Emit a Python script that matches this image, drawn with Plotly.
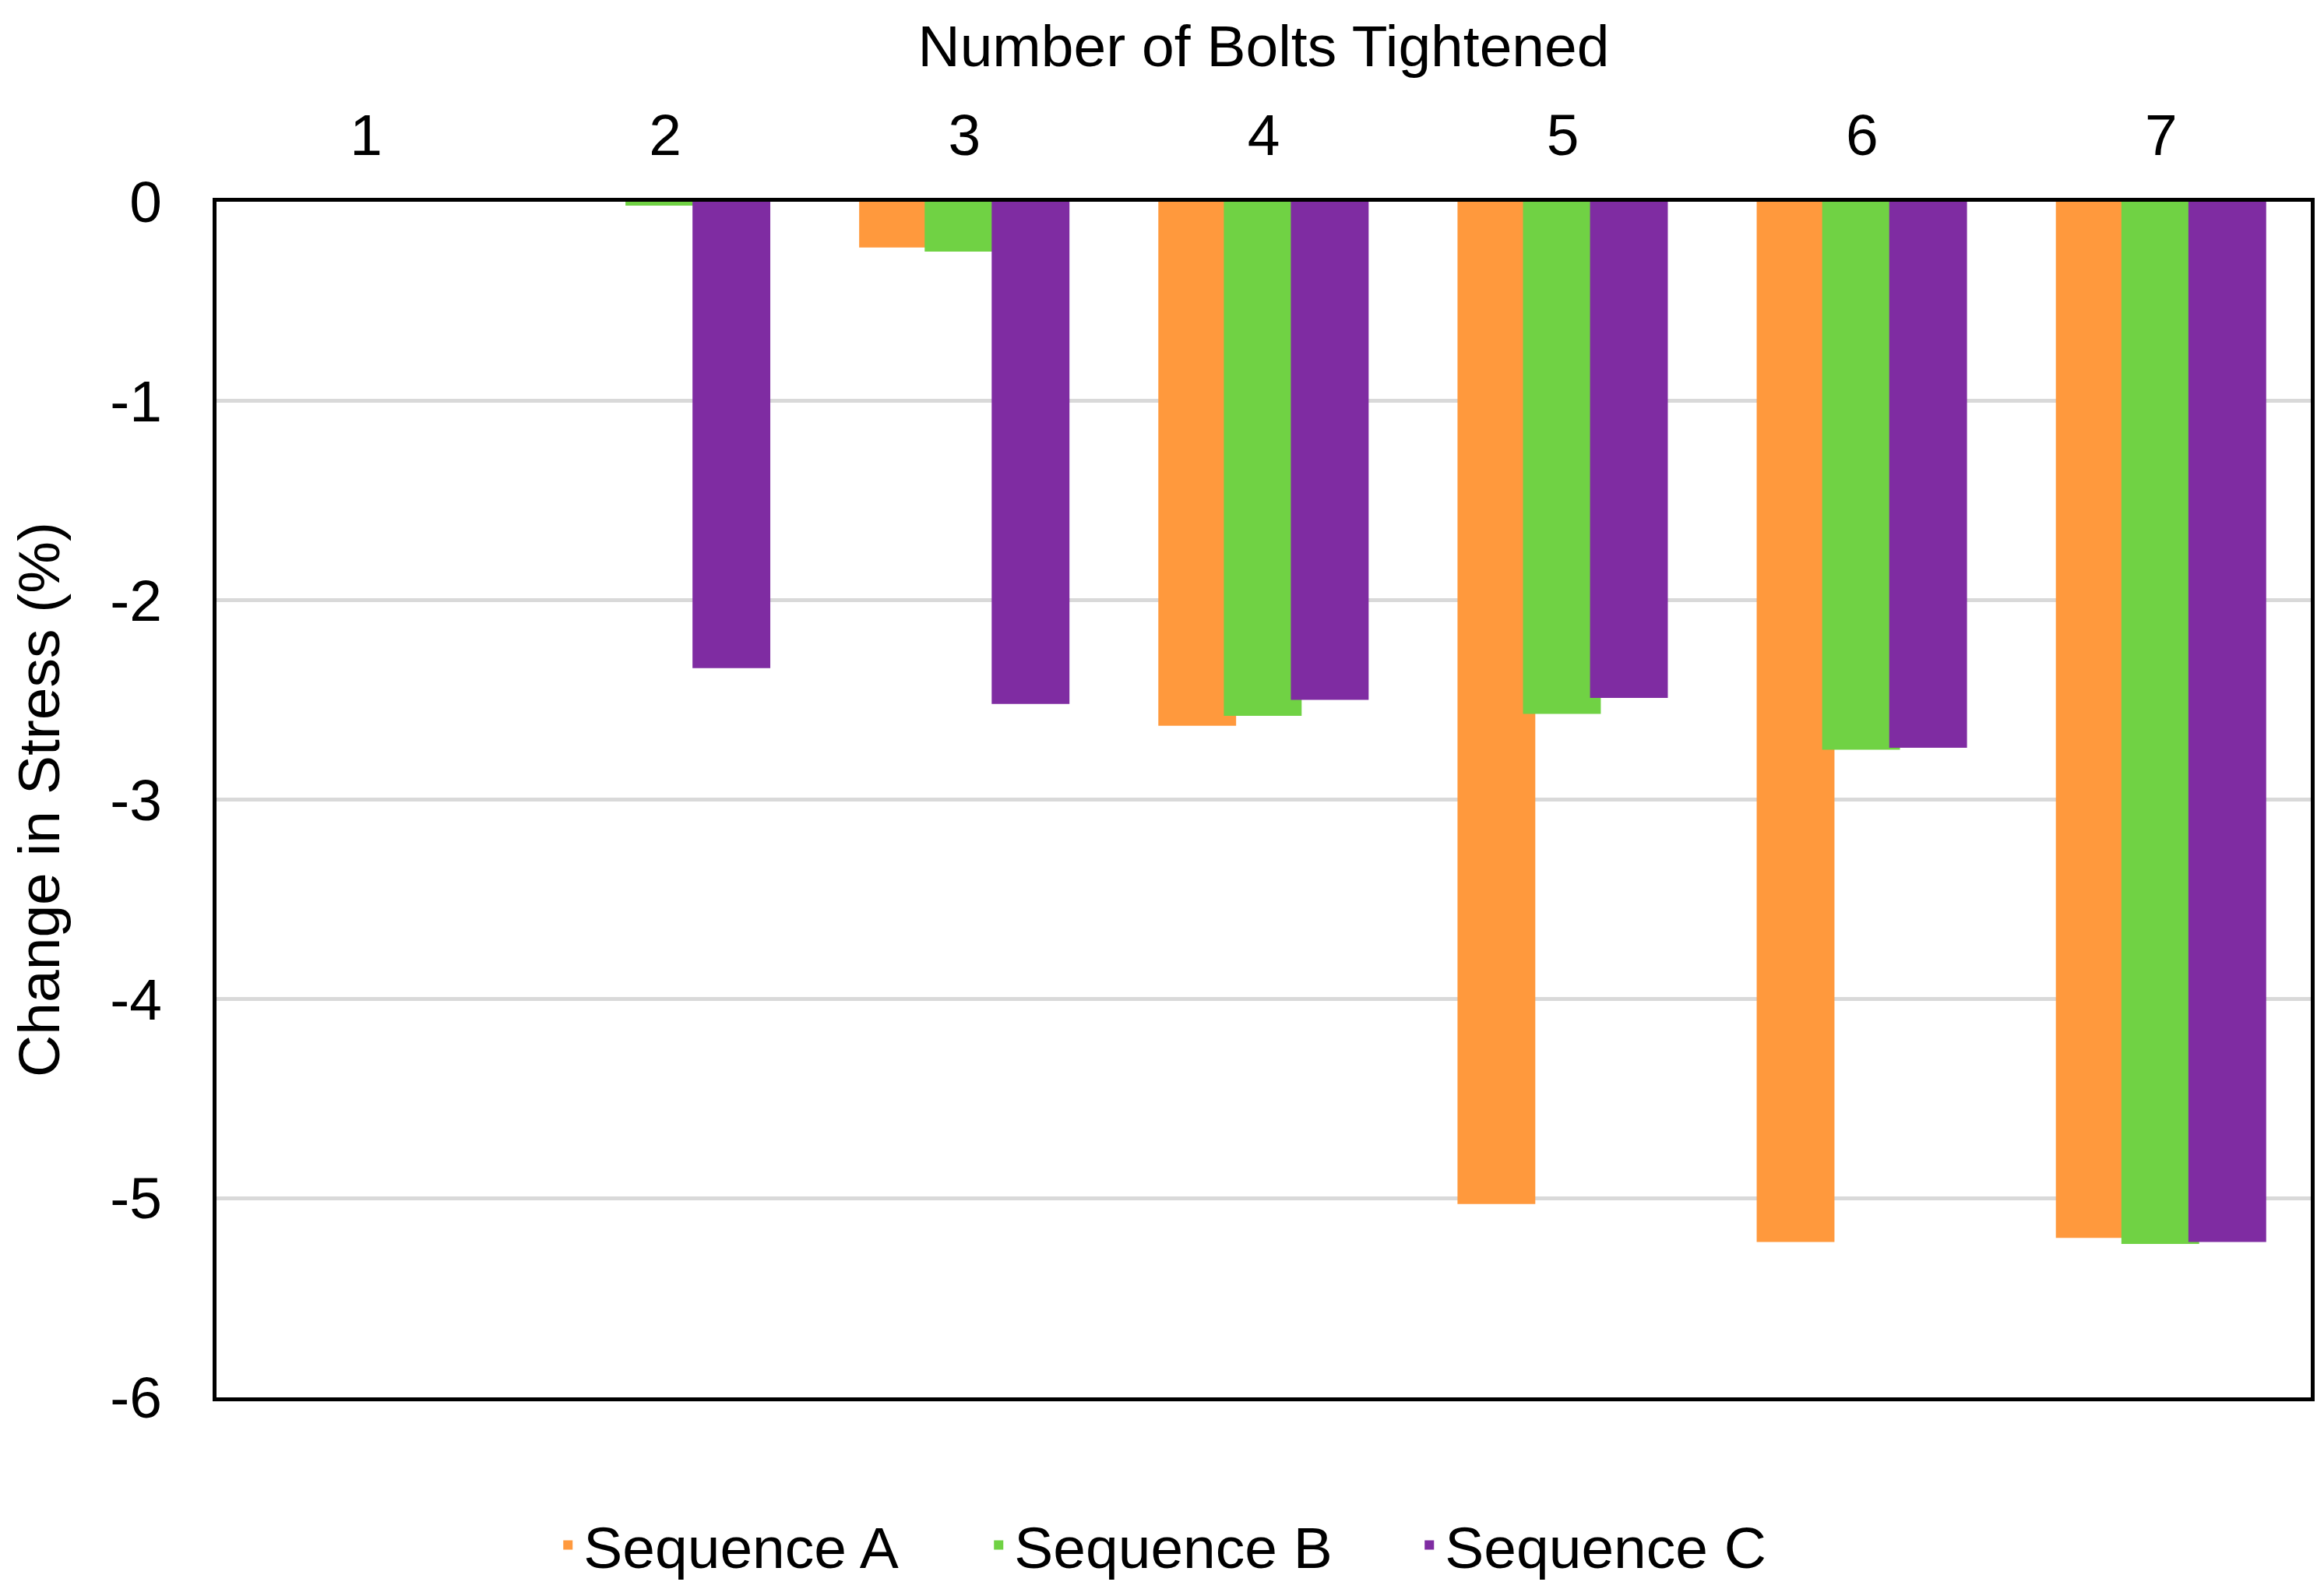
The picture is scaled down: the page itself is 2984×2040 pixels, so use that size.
import plotly.graph_objects as go

bolts = ["1", "2", "3", "4", "5", "6", "7"]
seq_a = [0.0, 0.0, -0.23, -2.63, -5.03, -5.22, -5.20]
seq_b = [0.0, -0.02, -0.25, -2.58, -2.57, -2.75, -5.23]
seq_c = [0.0, -2.34, -2.52, -2.50, -2.49, -2.74, -5.22]
series_names = ["Sequence A", "Sequence B", "Sequence C"]
colors = ["#FF993D", "#70D244", "#7F2CA2"]
y_ticks = [0, -1, -2, -3, -4, -5, -6]

FONT = "Liberation Sans, Arial, sans-serif"
FS = 75
BW = 0.26
offsets = [-0.352, -0.133, 0.091]

fig = go.Figure()
for name, vals, col, off in zip(series_names, [seq_a, seq_b, seq_c], colors, offsets):
    fig.add_trace(go.Bar(x=bolts, y=vals, name=name, marker_color=col,
                         marker_line_width=0, width=BW, offset=off))

fig.update_layout(
    width=2984, height=2040,
    barmode="overlay",
    paper_bgcolor="white", plot_bgcolor="white",
    font=dict(family=FONT, size=FS, color="black"),
    margin=dict(l=270, r=25, t=251, b=254),
    legend=dict(orientation="h", xref="container", yref="container",
                x=0.235, xanchor="left", y=0.0315, yanchor="middle",
                font=dict(size=FS), itemwidth=30, traceorder="normal",
                entrywidth=508, entrywidthmode="pixels"),
    showlegend=True,
)
fig.update_xaxes(side="top", type="category", showline=True, linecolor="black",
                 linewidth=5, mirror=True, showgrid=False, ticks="",
                 tickfont=dict(size=FS), ticklabelstandoff=25,
                 title=dict(text="Number of Bolts Tightened", font=dict(size=FS), standoff=22))
fig.update_yaxes(range=[-6, 0], tickvals=y_ticks, ticktext=[str(v) for v in y_ticks],
                 showline=True, linecolor="black", linewidth=5, mirror=True,
                 showgrid=True, gridcolor="#D9D9D9", gridwidth=5, zeroline=False,
                 ticks="", tickfont=dict(size=FS), ticklabelstandoff=50,
                 title=dict(text="Change in Stress (%)", font=dict(size=FS), standoff=45))

fig.write_html("out.html")
